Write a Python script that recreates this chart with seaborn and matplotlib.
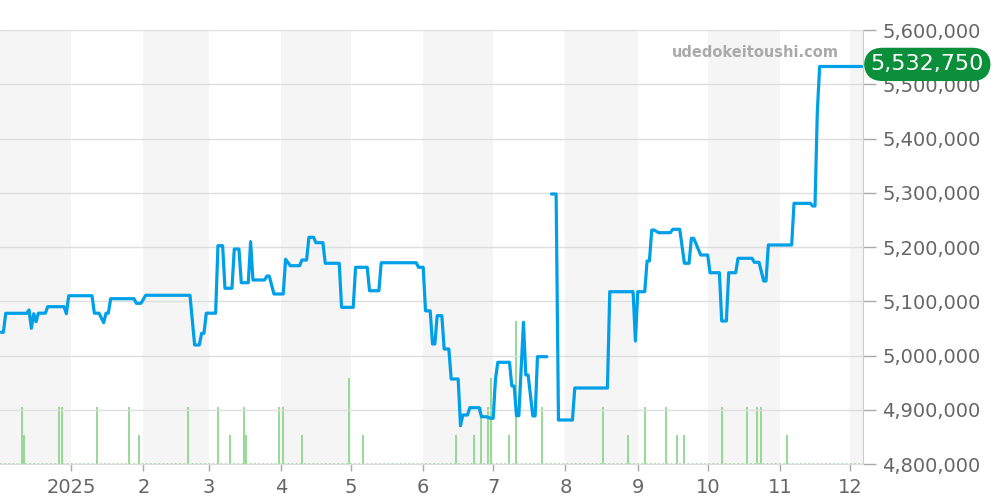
import matplotlib
matplotlib.use("Agg")
import matplotlib.pyplot as plt
import matplotlib.dates as mdates
import matplotlib.transforms as mtransforms
import seaborn as sns
import pandas as pd
import numpy as np

# ---------------- data ----------------
price_dates_a = [
    "2024-12-02", "2024-12-03", "2024-12-04", "2024-12-13", "2024-12-14", "2024-12-15",
    "2024-12-16", "2024-12-17", "2024-12-18", "2024-12-21", "2024-12-22", "2024-12-29",
    "2024-12-30", "2024-12-31", "2025-01-10", "2025-01-11", "2025-01-13", "2025-01-15",
    "2025-01-16", "2025-01-17", "2025-01-18", "2025-01-28", "2025-01-29", "2025-01-31",
    "2025-02-02", "2025-02-21", "2025-02-23", "2025-02-25", "2025-02-26", "2025-02-27",
    "2025-02-28", "2025-03-04", "2025-03-05", "2025-03-07", "2025-03-08", "2025-03-11",
    "2025-03-12", "2025-03-14", "2025-03-15", "2025-03-18", "2025-03-19", "2025-03-20",
    "2025-03-25", "2025-03-26", "2025-03-27", "2025-03-29", "2025-04-02", "2025-04-03",
    "2025-04-05", "2025-04-09", "2025-04-10", "2025-04-12", "2025-04-13", "2025-04-15",
    "2025-04-16", "2025-04-19", "2025-04-20", "2025-04-26", "2025-04-27", "2025-05-02",
    "2025-05-03", "2025-05-08", "2025-05-09", "2025-05-13", "2025-05-14", "2025-05-29",
    "2025-05-30", "2025-06-01", "2025-06-02", "2025-06-04", "2025-06-05", "2025-06-06",
    "2025-06-07", "2025-06-09", "2025-06-10", "2025-06-12", "2025-06-13", "2025-06-16",
    "2025-06-17", "2025-06-18", "2025-06-20", "2025-06-21", "2025-06-25", "2025-06-26",
    "2025-06-28", "2025-06-30", "2025-07-01", "2025-07-02", "2025-07-03", "2025-07-08",
    "2025-07-09", "2025-07-10", "2025-07-11", "2025-07-12", "2025-07-14", "2025-07-15",
    "2025-07-16", "2025-07-18", "2025-07-19", "2025-07-20", "2025-07-24",
]
price_values_a = [
    5042800, 5042800, 5077800, 5077800, 5083900, 5050100,
    5077000, 5062300, 5078000, 5078000, 5090000, 5090000,
    5077000, 5110200, 5110200, 5078000, 5078000, 5060500,
    5078000, 5078000, 5104700, 5104700, 5096200, 5096200,
    5111000, 5111000, 5019400, 5019400, 5040900, 5040900,
    5078000, 5078000, 5202400, 5202400, 5123900, 5123900,
    5196300, 5196300, 5134200, 5134200, 5209800, 5139200,
    5139200, 5146500, 5146500, 5113400, 5113400, 5177300,
    5165500, 5165500, 5176000, 5176000, 5217900, 5217900,
    5207900, 5207900, 5170000, 5170000, 5088800, 5088800,
    5162600, 5162600, 5119400, 5119400, 5171000, 5171000,
    5162600, 5162600, 5082300, 5082300, 5021200, 5021200,
    5073400, 5073400, 5012000, 5012000, 4956700, 4956700,
    4870600, 4890300, 4890300, 4903800, 4903800, 4887200,
    4887200, 4884200, 4884200, 4956700, 4987500, 4987500,
    4943800, 4943800, 4889000, 4889000, 5061200, 4964100,
    4964100, 4888500, 4888500, 4997800, 4997800,
]
price_dates_b = [
    "2025-07-26", "2025-07-28", "2025-07-29", "2025-08-04", "2025-08-05", "2025-08-19",
    "2025-08-20", "2025-08-30", "2025-08-31", "2025-09-01", "2025-09-04", "2025-09-05",
    "2025-09-06", "2025-09-07", "2025-09-08", "2025-09-10", "2025-09-15", "2025-09-16",
    "2025-09-19", "2025-09-21", "2025-09-23", "2025-09-24", "2025-09-25", "2025-09-28",
    "2025-10-01", "2025-10-02", "2025-10-06", "2025-10-07", "2025-10-09", "2025-10-10",
    "2025-10-13", "2025-10-14", "2025-10-20", "2025-10-21", "2025-10-23", "2025-10-25",
    "2025-10-26", "2025-10-27", "2025-11-06", "2025-11-07", "2025-11-14", "2025-11-15",
    "2025-11-16", "2025-11-17", "2025-11-18", "2025-12-06",
]
price_values_b = [
    5297700, 5297700, 4881100, 4881100, 4940100, 4940100,
    5117600, 5117600, 5026700, 5117600, 5117600, 5174200,
    5174200, 5231300, 5231300, 5226400, 5226400, 5232600,
    5232600, 5170000, 5170000, 5216000, 5216000, 5185200,
    5185200, 5152600, 5152600, 5063600, 5063600, 5152600,
    5152600, 5179200, 5179200, 5171800, 5171800, 5137300,
    5137300, 5203700, 5203700, 5280500, 5280500, 5275600,
    5275600, 5450000, 5532750, 5532750,
]

volume_dates = [
    "2024-12-11", "2024-12-12", "2024-12-27", "2024-12-28", "2025-01-12", "2025-01-26",
    "2025-01-30", "2025-02-20", "2025-03-05", "2025-03-10", "2025-03-16", "2025-03-17",
    "2025-03-31", "2025-04-02", "2025-04-10", "2025-04-30", "2025-05-06", "2025-06-15",
    "2025-06-23", "2025-06-26", "2025-06-29", "2025-06-30", "2025-07-08", "2025-07-11",
    "2025-07-22", "2025-08-17", "2025-08-28", "2025-09-04", "2025-09-13", "2025-09-18",
    "2025-09-21", "2025-10-07", "2025-10-18", "2025-10-22", "2025-10-24", "2025-11-04",
]
volume_counts = [
    2, 1, 2, 2, 2, 2,
    1, 2, 2, 1, 2, 1,
    2, 2, 1, 3, 1, 1,
    1, 2, 2, 3, 1, 5,
    2, 2, 1, 2, 2, 1,
    1, 2, 2, 2, 2, 1,
]

month_ticks = ["2025-01-01", "2025-02-01", "2025-03-01", "2025-04-01", "2025-05-01",
               "2025-06-01", "2025-07-01", "2025-08-01", "2025-09-01", "2025-10-01",
               "2025-11-01", "2025-12-01"]
month_labels = ["2025", "2", "3", "4", "5", "6", "7", "8", "9", "10", "11", "12"]
shaded_months = [("2024-12-01", "2025-01-01"), ("2025-02-01", "2025-03-01"),
                 ("2025-04-01", "2025-05-01"), ("2025-06-01", "2025-07-01"),
                 ("2025-08-01", "2025-09-01"), ("2025-10-01", "2025-11-01"),
                 ("2025-12-01", "2026-01-01")]
y_ticks = [4800000, 4900000, 5000000, 5100000, 5200000, 5300000, 5400000, 5500000, 5600000]
last_price = 5532750
watermark = "udedokeitoushi.com"

# ---------------- build frames ----------------
df = pd.DataFrame({
    "date": pd.to_datetime(price_dates_a + price_dates_b),
    "price": price_values_a + price_values_b,
    "seg": [0] * len(price_dates_a) + [1] * len(price_dates_b),
})
vol = pd.DataFrame({"date": pd.to_datetime(volume_dates), "count": volume_counts})

# ---------------- figure ----------------
sns.set_style("white")
plt.rcParams["font.family"] = ["DejaVu Sans"]

fig = plt.figure(figsize=(10, 5), dpi=100)
ax = fig.add_axes([0.0, 0.072, 0.863, 0.868])
ax2 = ax.twinx()
ax.set_zorder(2)
ax.patch.set_visible(False)
ax2.set_zorder(1)

x0 = pd.Timestamp("2024-12-01 13:00")
x1 = pd.Timestamp("2025-12-06 14:00")

# shaded month bands (on the lower axes)
for s, e in shaded_months:
    ax2.axvspan(mdates.date2num(pd.Timestamp(s)), mdates.date2num(pd.Timestamp(e)),
                color="#f5f5f5", lw=0, zorder=0)

# volume bars
ax2.vlines(mdates.date2num(vol["date"]), 0, vol["count"], color="#8fd68f", lw=1.3, zorder=2)
ax2.axhline(0, color="#8fd68f", lw=1.2, ls=(0, (1, 1.5)), zorder=3)
ax2.set_ylim(0, 15.17)
ax2.set_yticks([])
for sp in ax2.spines.values():
    sp.set_visible(False)

# price line
sns.lineplot(data=df, x="date", y="price", units="seg", estimator=None,
             color="#00a0e9", lw=2.3, ax=ax, legend=False, zorder=5)
for ln in ax.get_lines():
    ln.set_solid_joinstyle("round")

ax.set_xlim(mdates.date2num(x0), mdates.date2num(x1))
ax2.set_xlim(mdates.date2num(x0), mdates.date2num(x1))
ax.set_ylim(4800000, 5600000)

# axes styling
ax.set_xlabel("")
ax.set_ylabel("")
ax.yaxis.tick_right()
ax.set_yticks(y_ticks)
ax.set_yticklabels([f"{v:,}" for v in y_ticks])
ax.set_xticks(mdates.date2num(pd.to_datetime(month_ticks)))
ax.set_xticklabels(month_labels)
ax.tick_params(axis="y", length=9, width=1, color="#aaaaaa", labelsize=14,
               labelcolor="#666666", pad=5, right=True, left=False)
ax.tick_params(axis="x", length=5, width=1, color="#aaaaaa", labelsize=14,
               labelcolor="#666666", pad=5, bottom=True)
ax.yaxis.grid(True, color="#dedede", lw=1)
ax.xaxis.grid(False)
for name, sp in ax.spines.items():
    sp.set_visible(name in ("right", "bottom"))
ax.spines["right"].set_color("#cccccc")
ax.spines["bottom"].set_color("#dddddd")

# watermark
ax.text(0.875, 0.949, watermark, transform=ax.transAxes, ha="center", va="center",
        fontsize=10.5, fontweight="bold", color="#aaaaaa", zorder=6)

# last price label
trans = mtransforms.blended_transform_factory(ax.transAxes, ax.transData)
ax.annotate(f"{last_price:,}", xy=(1.0, last_price), xycoords=trans,
            xytext=(5.5, 1.5), textcoords="offset points", ha="left", va="center",
            fontsize=16, color="white", zorder=10, annotation_clip=False,
            bbox=dict(boxstyle="round,pad=0.3,rounding_size=0.85", fc="#0b8f3a", ec="none"))

fig.savefig("out.png", dpi=100)
